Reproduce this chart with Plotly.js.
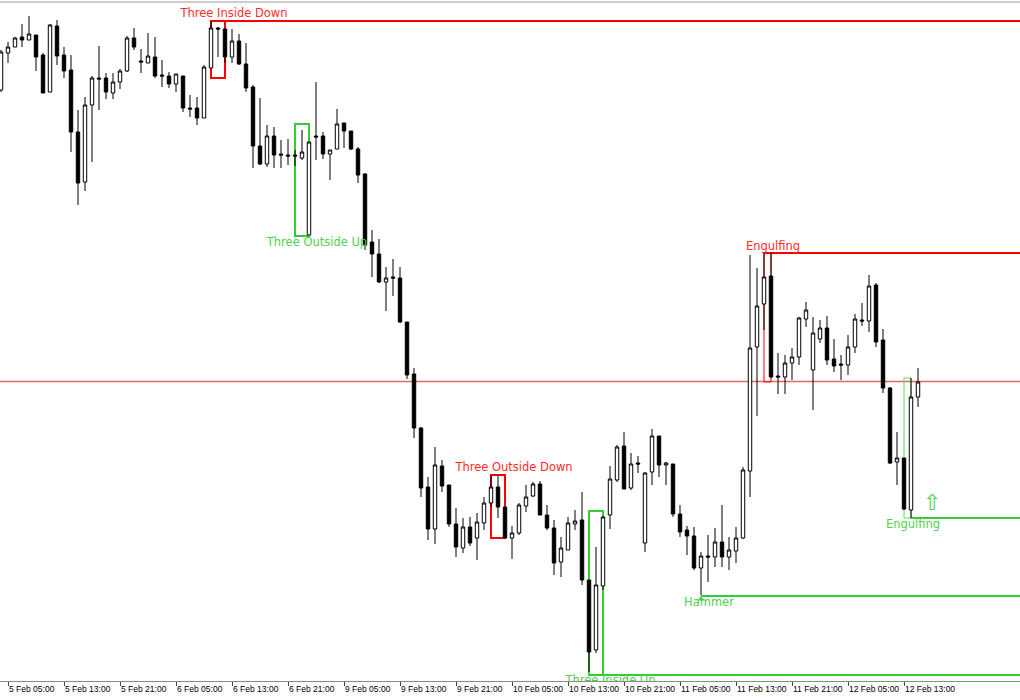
<!DOCTYPE html>
<html>
<head>
<meta charset="utf-8">
<script src="https://cdn.plot.ly/plotly-3.0.1.min.js"></script>
<style>
html,body{margin:0;padding:0;background:#fff;}
#chart{width:1020px;height:700px;}
</style>
</head>
<body>
<div id="chart"></div>
<script>
// Hourly candles, 5 Feb 04:00 -> 12 Feb 15:00 (weekend skipped)
const days = ['5 Feb','6 Feb','9 Feb','10 Feb','11 Feb','12 Feb'];
const dayFirstHour = [4, 0, 0, 0, 0, 0];
const dayLastHour  = [23, 23, 23, 23, 23, 15];

// prices (points, relative scale)
const open = [610,647,653,663,660,665,645,608,674,645,
630,568,518,595,622,622,607,618,629,662,
639,637,643,625,624,616,624,592,592,582,
632,672,671,643,659,636,613,554,536,564,
546,545,545,542,465,564,564,546,551,577,
569,551,526,458,446,418,423,422,378,326,
272,213,171,234,215,176,152,173,162,177,
197,213,193,162,167,194,204,216,185,172,
138,150,176,180,120,50,114,185,220,254,
212,237,157,228,264,235,236,186,170,164,
132,144,143,158,143,149,162,229,353,396,
424,324,323,337,343,381,330,361,372,341,
336,335,353,380,379,415,360,312,238,242,
190,303];
const high = [650,658,663,676,684,665,647,676,680,653,
645,590,603,624,654,627,627,631,664,672,
651,667,663,640,628,626,624,605,603,635,
679,673,671,671,666,657,615,602,575,573,
560,561,550,570,558,618,568,550,591,577,
569,553,527,470,461,433,441,433,378,332,
273,223,253,240,215,192,182,183,187,203,
225,225,193,174,197,215,218,219,195,180,
163,183,190,208,120,153,184,234,255,268,
247,244,228,271,264,238,236,195,174,173,
148,165,172,195,163,173,233,445,432,447,
447,347,345,352,383,398,383,380,384,361,
345,365,386,397,425,417,371,313,268,242,
322,332];
const low = [608,637,653,653,660,629,607,608,635,622,
548,495,509,538,590,601,601,611,628,650,
627,637,622,613,612,608,588,583,575,582,
632,643,637,637,635,608,532,535,533,532,
532,535,534,540,465,540,541,520,551,552,
550,517,450,423,417,389,404,377,321,262,
203,160,156,208,173,143,147,154,140,170,
193,182,162,141,165,188,203,185,170,125,
123,150,170,115,28,47,110,171,218,211,
210,227,148,215,223,215,183,163,145,130,
105,118,133,133,130,137,161,203,284,370,
322,306,306,320,335,373,290,357,335,328,
320,325,347,374,368,353,307,236,215,190,
182,293];
const close = [648,653,662,660,666,643,607,675,644,629,
568,517,595,622,621,608,618,629,662,653,
638,644,624,624,616,626,592,591,582,633,
672,671,643,659,636,612,554,536,564,545,
545,544,544,548,558,563,546,550,576,569,
551,525,455,446,418,422,422,378,325,272,
212,171,235,214,176,153,173,157,178,197,
213,193,162,167,195,203,216,185,172,137,
152,177,179,120,48,115,183,221,253,211,
236,236,227,264,235,237,186,168,164,132,
144,143,158,143,150,162,230,352,394,423,
323,323,337,343,382,390,367,372,340,334,
335,353,381,379,414,358,312,237,242,191,
303,318];

// candlestick patterns (positions are candle indices)
const patName   = ['Three Inside Down','Three Outside Up','Three Outside Down','Three Inside Up','Engulfing','Hammer','Engulfing'];
const patBull   = [false, true, false, true, false, true, true];
const patStart  = [30, 42, 70, 84, 109, null, 129];
const patEnd    = [32, 44, 72, 86, 110, null, 130];
const patTop    = [679, 576, 225, 189, 447, null, 322];
const patBottom = [622, 464, 162, 25, 318, null, 182];
const patThin   = [false, false, false, false, true, false, true];
const levelPrice = [679, null, null, 25, 447, 104, 182];
const levelFrom  = [30, null, null, 84, 109, 100, 130];
const labelX = [33.29, 45.14, 73.29, 87.07, 110.29, 101.14, 130.29];
const labelY = [686, 457, 232, 18.5, 453, 97, 175];
const hammerMark = {idx: 100, price: 101};
const arrowMark = {idx: 133, price: 196};
const midLine = 318.5;

// build time labels
const times = [];
const idx = [];
const tickVals = [];
const tickText = [];
days.forEach((d, di) => {
  for (let h = dayFirstHour[di]; h <= dayLastHour[di]; h++) {
    const lbl = d + ' ' + String(h).padStart(2, '0') + ':00';
    if (h === 5 || h === 13 || h === 21) { tickVals.push(times.length); tickText.push(lbl); }
    idx.push(times.length);
    times.push(lbl);
  }
});

const RED = '#ff0000', RED_TXT = '#ff2b2b', GREEN = '#33cc33', GREEN_TXT = '#4fd14f', GREEN_THIN = '#5fd85f';

const traces = [{
  type: 'candlestick',
  x: idx, open: open, high: high, low: low, close: close,
  text: times,
  increasing: {line: {color: '#000000', width: 1}, fillcolor: '#ffffff'},
  decreasing: {line: {color: '#000000', width: 1}, fillcolor: '#000000'},
  whiskerwidth: 0,
  hoverinfo: 'skip',
  showlegend: false
}, {
  type: 'scatter', mode: 'text',
  x: labelX, y: labelY, text: patName,
  textfont: {family: 'DejaVu Sans, Verdana, sans-serif', size: 11.5,
             color: patBull.map(b => b ? GREEN_TXT : RED_TXT)},
  textposition: 'middle center',
  cliponaxis: true, hoverinfo: 'skip', showlegend: false
}, {
  type: 'scatter', mode: 'text',
  x: [arrowMark.idx], y: [arrowMark.price], text: ['\u21E7'],
  textfont: {family: 'DejaVu Sans', size: 22, color: GREEN_TXT},
  textposition: 'middle center', cliponaxis: true, hoverinfo: 'skip', showlegend: false
}, {
  type: 'scatter', mode: 'markers',
  x: [hammerMark.idx], y: [hammerMark.price],
  marker: {symbol: 'triangle-up', size: 6, color: GREEN_TXT},
  cliponaxis: true, hoverinfo: 'skip', showlegend: false
}];

const shapes = [];
shapes.push({type: 'line', xref: 'paper', yref: 'y', x0: 0, x1: 1, y0: midLine, y1: midLine,
  line: {color: '#e86464', width: 1.3}, layer: 'below'});
patName.forEach((n, p) => {
  const col = patBull[p] ? GREEN : RED;
  if (patStart[p] !== null) {
    shapes.push({type: 'rect', xref: 'x', yref: 'y',
      x0: patStart[p], x1: patEnd[p], y0: patBottom[p], y1: patTop[p],
      line: {color: patThin[p] ? (patBull[p] ? GREEN_THIN : RED) : col, width: patThin[p] ? 1 : 2},
      fillcolor: 'rgba(0,0,0,0)', layer: 'below'});
  }
  if (levelPrice[p] !== null) {
    shapes.push({type: 'line', xref: 'x', yref: 'y',
      x0: levelFrom[p], x1: 150, y0: levelPrice[p], y1: levelPrice[p],
      line: {color: col, width: 2}, layer: 'below'});
  }
});
shapes.push({type: 'line', xref: 'paper', yref: 'paper', x0: 0, x1: 1, y0: 1, y1: 1,
  line: {color: '#9a9a9a', width: 1}});

const layout = {
  width: 1020, height: 700,
  margin: {l: 0, r: 0, t: 2, b: 19, pad: 0},
  paper_bgcolor: '#ffffff', plot_bgcolor: '#ffffff',
  showlegend: false,
  xaxis: {
    type: 'linear',
    range: [-1/7, 1019/7],
    rangeslider: {visible: false},
    showgrid: false, zeroline: false,
    showline: true, linecolor: '#8a8a8a', linewidth: 1,
    ticks: 'outside', ticklen: 4, tickcolor: '#444', tickwidth: 1,
    tickmode: 'array', tickvals: tickVals, ticktext: tickText,
    tickangle: 0,
    ticklabelposition: 'outside right',
    tickfont: {family: 'Liberation Sans, Arial, sans-serif', size: 8.5, color: '#000'},
    fixedrange: true
  },
  yaxis: {
    range: [19, 698],
    showgrid: false, zeroline: false, showline: false,
    showticklabels: false, ticks: '', fixedrange: true
  },
  shapes: shapes
};

Plotly.newPlot('chart', traces, layout, {displayModeBar: false, staticPlot: true});
</script>
</body>
</html>
